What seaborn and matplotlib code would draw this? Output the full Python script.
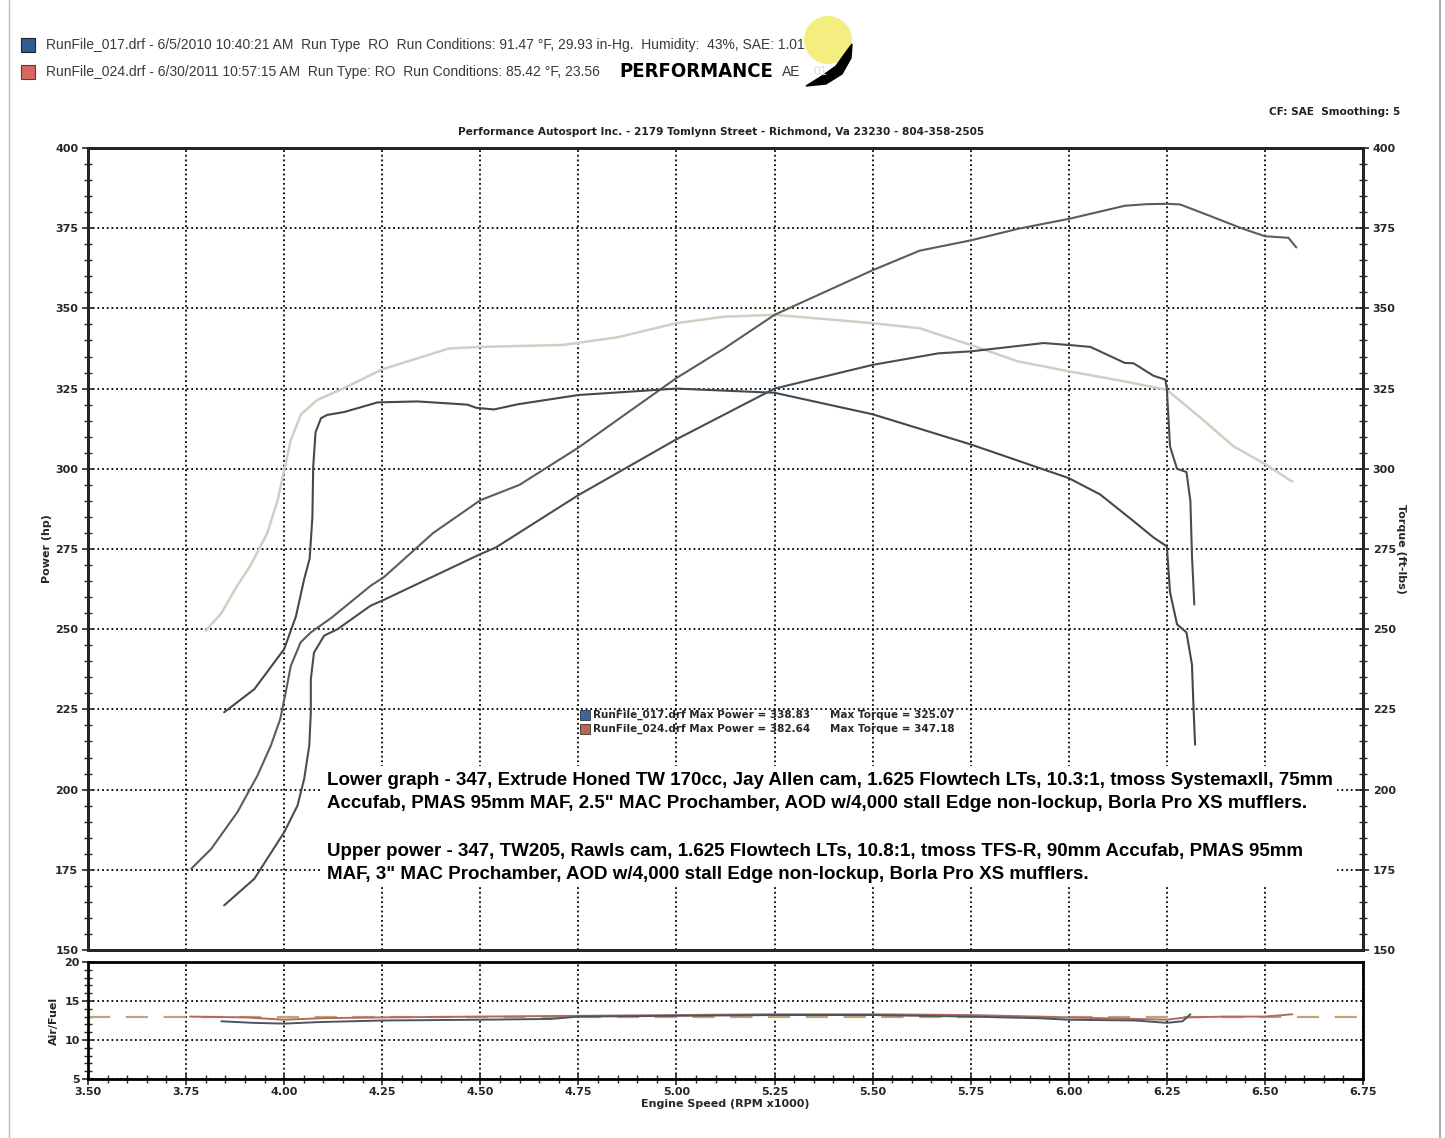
import matplotlib
matplotlib.use("Agg")
import matplotlib.pyplot as plt
import matplotlib.patches as mpatches
from matplotlib import font_manager
from matplotlib.ticker import MultipleLocator
import seaborn as sns

sns.set_style("white")
plt.rcParams["font.family"] = ["DejaVu Sans"]

W, H = 1445, 1138

# --- torque run 024 (light curve) ---
t24_rpm = [3.80, 3.84, 3.88, 3.915, 3.957, 3.983, 4.00, 4.017, 4.043, 4.085, 4.15, 4.25,
           4.42, 4.50, 4.71, 4.85, 5.00, 5.12, 5.25, 5.50, 5.62, 5.75, 5.87, 6.00, 6.14,
           6.25, 6.335, 6.42, 6.50, 6.57]
t24_val = [249.5, 255, 263.5, 270, 280, 290, 299.5, 309, 317, 321.5, 325, 331,
           337.5, 338, 338.6, 341, 345.4, 347.4, 348, 345.4, 343.8, 338.6, 333.5, 330.4, 327.3,
           324.6, 316, 307, 301.5, 296]

# --- power run 024 ---
p24_rpm = [3.763, 3.814, 3.881, 3.932, 3.966, 3.99, 4.004, 4.017, 4.042, 4.068, 4.12, 4.22,
           4.255, 4.38, 4.50, 4.60, 4.75, 5.00, 5.123, 5.25, 5.50, 5.62, 5.75, 5.87, 6.00,
           6.143, 6.20, 6.25, 6.284, 6.35, 6.44, 6.50, 6.56, 6.58]
p24_val = [175.3, 181.5, 193, 204.4, 213.7, 222, 230.3, 238.6, 245.9, 249, 253.5, 263.5,
           266.3, 280, 290.2, 295, 306.6, 328.3, 337.6, 348, 361.9, 368, 371.2, 374.8, 377.9,
           382, 382.5, 382.6, 382.4, 379.3, 375, 372.5, 372, 369]

# --- torque run 017 ---
t17_rpm = [3.847, 3.924, 4.00, 4.03, 4.051, 4.065, 4.072, 4.074, 4.08, 4.094, 4.11, 4.153,
           4.238, 4.34, 4.467, 4.49, 4.535, 4.595, 4.75, 5.00, 5.25, 5.50, 5.75, 6.00, 6.08,
           6.165, 6.216, 6.25, 6.258, 6.276, 6.30, 6.314, 6.318, 6.322]
t17_val = [224.1, 231.3, 243.8, 254, 265.6, 272, 285, 300.5, 311.4, 315.8, 316.8, 317.7,
           320.7, 321, 320, 319, 318.5, 320.1, 323, 325, 323.7, 317, 307.6, 297.1, 292,
           283.7, 278.6, 275.8, 261.6, 251.5, 249, 239, 225.5, 214]

# --- power run 017 ---
p17_rpm = [3.847, 3.924, 4.00, 4.034, 4.051, 4.064, 4.068, 4.068, 4.076, 4.102, 4.136, 4.22,
           4.255, 4.50, 4.54, 4.75, 5.00, 5.25, 5.50, 5.668, 5.75, 5.936, 6.00, 6.055, 6.143,
           6.165, 6.216, 6.246, 6.25, 6.258, 6.276, 6.30, 6.31, 6.314, 6.32]
p17_val = [163.9, 172.2, 186.7, 195, 203.3, 213.7, 224, 234.4, 242.7, 248, 250, 257.3,
           259.2, 273.4, 275.5, 291.8, 309.2, 325, 332.4, 336, 336.6, 339.2, 338.6, 338, 333,
           332.9, 329, 327.8, 325, 307, 300, 299, 290, 273, 257.7]

# --- air / fuel ---
afr17_rpm = [3.84, 3.92, 4.00, 4.09, 4.25, 4.50, 4.68, 4.75, 5.00, 5.25, 5.50, 5.75, 5.92,
             6.00, 6.17, 6.25, 6.29, 6.31]
afr17_val = [12.4, 12.2, 12.1, 12.3, 12.5, 12.6, 12.7, 13.0, 13.1, 13.2, 13.2, 13.0, 12.8,
             12.6, 12.5, 12.2, 12.4, 13.3]
afr24_rpm = [3.76, 3.90, 4.00, 4.10, 4.25, 4.50, 4.75, 5.00, 5.25, 5.50, 5.75, 6.00, 6.17,
             6.25, 6.30, 6.40, 6.50, 6.57]
afr24_val = [13.0, 12.9, 12.6, 12.8, 12.9, 13.0, 13.1, 13.2, 13.3, 13.3, 13.2, 12.9, 12.7,
             12.6, 12.9, 13.0, 13.0, 13.3]
afr_target = 13.0

rpm_ticks = [3.50, 3.75, 4.00, 4.25, 4.50, 4.75, 5.00, 5.25, 5.50, 5.75, 6.00, 6.25, 6.50, 6.75]
pwr_ticks = [150, 175, 200, 225, 250, 275, 300, 325, 350, 375, 400]
afr_ticks = [5, 10, 15, 20]

C_T24 = "#cfcfc2"
C_P24 = "#625a54"
C_T17 = "#3e4a52"
C_P17 = "#474d55"

fig = plt.figure(figsize=(W / 100, H / 100), dpi=100)
fig.patch.set_facecolor("white")

ax = fig.add_axes([88 / W, 1 - 950 / H, (1363 - 88) / W, (950 - 148) / H])
ax2 = fig.add_axes([88 / W, 1 - 1079 / H, (1363 - 88) / W, (1079 - 962) / H])

grid_kw = dict(color="black", ls=(0, (1, 1.6)), lw=1.3)
tick_lbl = dict(fontsize=8, fontweight="bold")

# Main graph
for xs, ys, c, lw in [(t24_rpm, t24_val, C_T24, 1.8), (p24_rpm, p24_val, C_P24, 1.5),
                      (t17_rpm, t17_val, C_T17, 1.5), (p17_rpm, p17_val, C_P17, 1.5)]:
    sns.lineplot(x=xs, y=ys, ax=ax, color=c, lw=lw, sort=False, estimator=None, zorder=3)

ax.set_xlim(3.5, 6.75)
ax.set_ylim(150, 400)
ax.set_xticks(rpm_ticks)
ax.set_yticks(pwr_ticks, labels=[str(v) for v in pwr_ticks], **tick_lbl)
ax.yaxis.set_minor_locator(MultipleLocator(5))
ax.grid(True, which="major", **grid_kw)
ax.tick_params(axis="x", bottom=False, labelbottom=False)
ax.tick_params(axis="y", which="major", direction="inout", length=8, width=1.2, left=True, pad=3)
ax.tick_params(axis="y", which="minor", direction="inout", length=6, width=1.0, left=True)
ax.set_ylabel("Power (hp)", fontsize=8, fontweight="bold", labelpad=2)
for s in ax.spines.values():
    s.set_linewidth(2)
    s.set_color("black")

axr = ax.twinx()
axr.set_ylim(150, 400)
axr.set_yticks(pwr_ticks, labels=[str(v) for v in pwr_ticks], **tick_lbl)
axr.yaxis.set_minor_locator(MultipleLocator(5))
axr.grid(False)
axr.tick_params(axis="y", which="major", direction="inout", length=8, width=1.2, right=True, pad=3)
axr.tick_params(axis="y", which="minor", direction="inout", length=6, width=1.0, right=True)
axr.set_ylabel("Torque (ft-lbs)", fontsize=8, fontweight="bold", rotation=270, labelpad=7)
for s in axr.spines.values():
    s.set_linewidth(2)

# Air/fuel graph
ax2.axhline(afr_target, color="#c4a27a", lw=1.6, ls=(0, (10, 7)), zorder=2)
sns.lineplot(x=afr24_rpm, y=afr24_val, ax=ax2, color="#b06a60", lw=1.4, sort=False,
             estimator=None, zorder=3)
sns.lineplot(x=afr17_rpm, y=afr17_val, ax=ax2, color="#4a5560", lw=1.4, sort=False,
             estimator=None, zorder=3)
ax2.set_xlim(3.5, 6.75)
ax2.set_ylim(5, 20)
ax2.set_xticks(rpm_ticks, labels=[f"{v:.2f}" for v in rpm_ticks], **tick_lbl)
ax2.set_yticks(afr_ticks, labels=[str(v) for v in afr_ticks], **tick_lbl)
ax2.xaxis.set_minor_locator(MultipleLocator(0.05))
ax2.yaxis.set_minor_locator(MultipleLocator(1))
ax2.grid(True, which="major", **grid_kw)
ax2.tick_params(axis="both", which="major", direction="inout", length=8, width=1.2,
                left=True, bottom=True, pad=2)
ax2.tick_params(axis="both", which="minor", direction="inout", length=6, width=1.0,
                left=True, bottom=True)
ax2.set_xlabel("Engine Speed (RPM x1000)", fontsize=8, fontweight="bold", labelpad=1)
ax2.set_ylabel("Air/Fuel", fontsize=8, fontweight="bold", labelpad=4)
for s in ax2.spines.values():
    s.set_linewidth(2)
    s.set_color("black")

# Overlay in pixel coordinates for the header and notes
ov = fig.add_axes([0, 0, 1, 1])
ov.set_xlim(0, W)
ov.set_ylim(H, 0)
ov.axis("off")
ov.patch.set_alpha(0)

ov.plot([9, 9], [0, H], color="#bbbbbb", lw=1)
ov.plot([1440, 1440], [0, H], color="#999999", lw=1.2)

hdr_font = dict(family="Liberation Sans", fontsize=10, color="#3a3a3a", va="center")
ov.add_patch(mpatches.Rectangle((21, 38), 14, 14, facecolor="#2f5f92", edgecolor="#222", lw=0.8))
ov.add_patch(mpatches.Rectangle((21, 65), 14, 14, facecolor="#d9675f", edgecolor="#444", lw=0.8))
ov.text(46, 45, "RunFile_017.drf - 6/5/2010 10:40:21 AM  Run Type  RO  Run Conditions: 91.47 \u00b0F, "
        "29.93 in-Hg.  Humidity:  43%, SAE: 1.01", **hdr_font)
ov.text(46, 72, "RunFile_024.drf - 6/30/2011 10:57:15 AM  Run Type: RO  Run Conditions: 85.42 \u00b0F, 23.56",
        **hdr_font)

# logo
installed = {f.name for f in font_manager.fontManager.ttflist}
if "Liberation Sans Narrow" in installed:
    logo_font = dict(family="Liberation Sans Narrow", fontsize=17.5)
else:
    logo_font = dict(family="DejaVu Sans", fontstretch="condensed", fontsize=14.5)

ov.add_patch(mpatches.Circle((828, 40), 24, facecolor="#f3ec6a", edgecolor="none", alpha=0.85))
ov.add_patch(mpatches.Polygon([(806, 86), (826, 84), (842, 74), (851, 58), (852, 44),
                               (846, 52), (836, 66), (822, 76)], closed=True,
                              facecolor="black", edgecolor="black"))
ov.text(782, 72, "AE", **hdr_font)
ov.text(813, 72, "01", family="Liberation Sans", fontsize=9, color="#dddddd", va="center")
ov.text(619, 71, "PERFORMANCE", fontweight="heavy", color="black", va="center",
        bbox=dict(facecolor="white", edgecolor="none", pad=0.5), **logo_font)

ov.text(1400, 112, "CF: SAE  Smoothing: 5", fontsize=7.6, fontweight="bold", ha="right",
        va="center", color="#222")
ov.text(721, 132, "Performance Autosport Inc. - 2179 Tomlynn Street - Richmond, Va 23230 - 804-358-2505",
        fontsize=7.6, fontweight="bold", ha="center", va="center", color="#222")

# in-plot max summary
ov.add_patch(mpatches.Rectangle((580, 710), 10, 10, facecolor="#3a66a0", edgecolor="#333", lw=0.6))
ov.add_patch(mpatches.Rectangle((580, 724), 10, 10, facecolor="#b8684e", edgecolor="#333", lw=0.6))
ov.text(593, 715, "RunFile_017.drf Max Power = 338.83", fontsize=7.5, fontweight="bold", va="center")
ov.text(830, 715, "Max Torque = 325.07", fontsize=7.5, fontweight="bold", va="center")
ov.text(593, 729, "RunFile_024.drf Max Power = 382.64", fontsize=7.5, fontweight="bold", va="center")
ov.text(830, 729, "Max Torque = 347.18", fontsize=7.5, fontweight="bold", va="center")

# build notes
ov.add_patch(mpatches.Rectangle((322, 766), 1015, 120, facecolor="white", edgecolor="none"))
note_font = dict(family="Liberation Sans", fontsize=13.5, fontweight="bold", color="black", va="center")
ov.text(327, 780, "Lower graph - 347, Extrude Honed TW 170cc, Jay Allen cam, 1.625 Flowtech LTs, "
        "10.3:1, tmoss SystemaxII, 75mm", **note_font)
ov.text(327, 803, "Accufab, PMAS 95mm MAF, 2.5\" MAC Prochamber, AOD w/4,000 stall Edge non-lockup, "
        "Borla Pro XS mufflers.", **note_font)
ov.text(327, 851, "Upper power - 347, TW205, Rawls cam, 1.625 Flowtech LTs, 10.8:1, tmoss TFS-R, "
        "90mm Accufab, PMAS 95mm", **note_font)
ov.text(327, 874, "MAF, 3\" MAC Prochamber, AOD w/4,000 stall Edge non-lockup, Borla Pro XS mufflers.",
        **note_font)

fig.savefig("out.png", dpi=100)
